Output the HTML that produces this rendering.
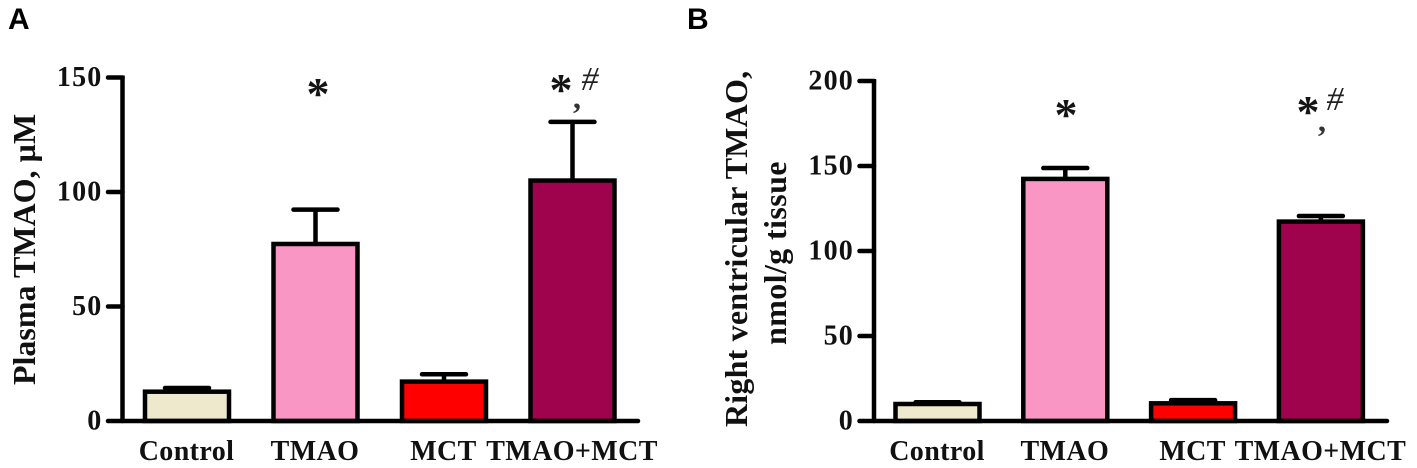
<!DOCTYPE html>
<html lang="en">
<head>
<meta charset="utf-8">
<title>Plasma and right ventricular TMAO</title>
<style>
html,body{margin:0;padding:0;background:#fff;}
body{width:1417px;height:468px;overflow:hidden;}
svg{display:block;filter:blur(0.35px);}
.t{font-family:"Liberation Serif",serif;font-weight:bold;fill:#111;}
.tick-label{font-size:28px;letter-spacing:1.2px;text-anchor:end;}
.cat-label{font-size:28px;letter-spacing:0.4px;text-anchor:middle;}
.axis-title{font-size:32px;}
.panel-letter{font-family:"Liberation Sans",sans-serif;font-weight:bold;font-size:30px;fill:#000;}
.star{font-family:"Liberation Serif",serif;font-size:46px;fill:#151515;text-anchor:middle;font-weight:bold;}
.hash{font-family:"Liberation Serif",serif;font-style:italic;font-size:34px;fill:#222;text-anchor:middle;}
.comma{font-family:"Liberation Serif",serif;font-size:32px;font-weight:bold;fill:#333;text-anchor:middle;}
</style>
</head>
<body>
<svg id="fig" xmlns="http://www.w3.org/2000/svg" width="1417" height="468" viewBox="0 0 1417 468">
  <text class="panel-letter" x="8" y="29">A</text>
  <text class="panel-letter" x="687" y="29">B</text>

  <g id="panelA">
    <text class="t axis-title" transform="translate(35,385) rotate(-90)">Plasma TMAO, µM</text>
    <text class="star" x="318" y="109">*</text>
    <text class="star" x="561" y="105">*</text>
    <text class="comma" x="577" y="108">,</text>
    <text class="hash" x="590" y="90">#</text>
  </g>

  <g id="panelB">
    <text class="t axis-title" transform="translate(747,427) rotate(-90)" letter-spacing="0.2">Right ventricular TMAO,</text>
    <text class="t axis-title" transform="translate(786,345) rotate(-90)" letter-spacing="0.4">nmol/g tissue</text>
    <text class="star" x="1066" y="130">*</text>
    <text class="star" x="1308" y="127">*</text>
    <text class="comma" x="1322" y="131">,</text>
    <text class="hash" x="1335" y="110">#</text>
  </g>
</svg>
<script>
const categories = ['Control', 'TMAO', 'MCT', 'TMAO+MCT'];
const barColors = ['#EEE8CD', '#FA96C3', '#FF0000', '#A0034E'];

const plasmaTicks = [0, 50, 100, 150];
const plasmaMeans = [12.8, 77.3, 17.2, 105];
const plasmaErrorTops = [14.4, 92.3, 20.4, 130.6];

const rvTicks = [0, 50, 100, 150, 200];
const rvMeans = [10, 142.4, 10.4, 117.3];
const rvErrorTops = [11, 148.8, 12.3, 120.6];

const SVG_NS = 'http://www.w3.org/2000/svg';

function make(parent, tag, attrs) {
  const node = document.createElementNS(SVG_NS, tag);
  for (const key in attrs) node.setAttribute(key, attrs[key]);
  parent.appendChild(node);
  return node;
}

function drawPanel(parent, ticks, means, errorTops, x, y, axis) {
  const baseline = y(0);
  const topValue = ticks[ticks.length - 1];

  means.forEach(function (mean, i) {
    const stem = make(parent, 'line', {x1: x(i), x2: x(i), y1: y(mean), y2: y(errorTops[i]), stroke: '#000', 'stroke-width': 4.5});
    
    

    const cap = make(parent, 'line', {x1: x(i) - 22, x2: x(i) + 22, y1: y(errorTops[i]), y2: y(errorTops[i]), stroke: '#000', 'stroke-width': 4.5, 'stroke-linecap': 'round'});
    
    

    const bar = make(parent, 'rect', {x: x(i) - 42, y: y(mean), width: 84, height: baseline - y(mean), fill: barColors[i], stroke: '#000', 'stroke-width': 4.5});
    
    

    const label = make(parent, 'text', {x: x(i) - 0.5, y: 460, class: 't cat-label'});
    label.textContent = categories[i];
    
    
  });

  const yAxis = make(parent, 'line', {x1: axis.axisX, x2: axis.axisX, y1: y(topValue) - 2, y2: baseline + 2, stroke: '#000', 'stroke-width': 4.5});
  
  

  const xAxis = make(parent, 'line', {x1: axis.axisX, x2: axis.xEnd, y1: baseline, y2: baseline, stroke: '#000', 'stroke-width': 4.5, 'stroke-linecap': 'round'});
  
  

  ticks.forEach(function (value) {
    const tick = make(parent, 'line', {x1: axis.axisX - 14.5, x2: axis.axisX, y1: y(value), y2: y(value), stroke: '#000', 'stroke-width': 4.5, 'stroke-linecap': 'round'});
    
    

    const tickLabel = make(parent, 'text', {x: axis.axisX - 20, y: y(value) + 8.5, class: 't tick-label'});
    tickLabel.textContent = value;
    
    
  });
}

function plasmaY(v) { return 421 - v * 343.5 / 150; }
function plasmaX(i) { return 187 + i * 128.5; }
function rvY(v) { return 421 - v * 340 / 200; }
function rvX(i) { return 937.5 + i * 127.8; }

drawPanel(document.getElementById('panelA'), plasmaTicks, plasmaMeans, plasmaErrorTops, plasmaX, plasmaY, {axisX: 122.5, xEnd: 638});
drawPanel(document.getElementById('panelB'), rvTicks, rvMeans, rvErrorTops, rvX, rvY, {axisX: 874, xEnd: 1387});
</script>
</body>
</html>
